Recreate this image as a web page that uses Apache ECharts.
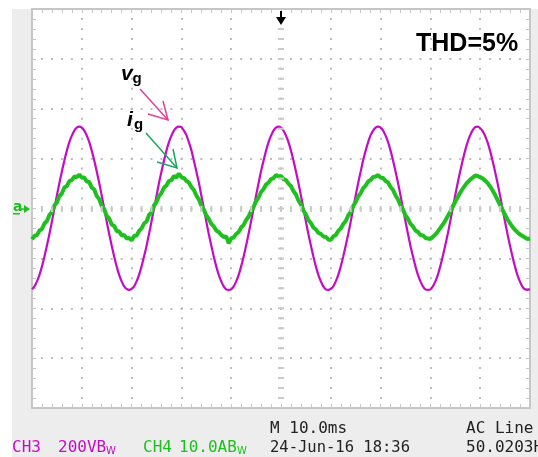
<!DOCTYPE html>
<html>
<head>
<meta charset="utf-8">
<script src="https://cdn.jsdelivr.net/npm/echarts@6/dist/echarts.min.js"></script>
<style>
  html, body { margin: 0; padding: 0; background: #fff; }
  #chart { width: 538px; height: 457px; }
</style>
</head>
<body>
<div id="chart"></div>
<script>
// time in ms (10 ms / div), values in divisions (CH3 200 V/div, CH4 10 A/div)
var vgStep = 0.5;
var vgValues = [
  -1.62, -1.56, -1.46, -1.33, -1.16, -0.96, -0.74, -0.51, -0.26, 0.00, 0.26, 0.51, 0.74, 0.96, 1.16, 1.33, 1.46, 1.56, 1.62, 1.64,
  1.62, 1.56, 1.46, 1.33, 1.16, 0.96, 0.74, 0.51, 0.26, 0.00, -0.26, -0.51, -0.74, -0.96, -1.16, -1.33, -1.46, -1.56, -1.61, -1.63,
  -1.61, -1.56, -1.46, -1.33, -1.16, -0.96, -0.75, -0.51, -0.26, 0.00, 0.25, 0.51, 0.74, 0.96, 1.16, 1.33, 1.46, 1.56, 1.62, 1.64,
  1.63, 1.56, 1.47, 1.33, 1.17, 0.96, 0.74, 0.52, 0.26, 0.01, -0.26, -0.51, -0.74, -0.96, -1.16, -1.33, -1.46, -1.56, -1.62, -1.63,
  -1.62, -1.56, -1.46, -1.33, -1.16, -0.96, -0.74, -0.50, -0.25, 0.00, 0.26, 0.51, 0.75, 0.96, 1.16, 1.33, 1.46, 1.56, 1.62, 1.64,
  1.62, 1.56, 1.46, 1.33, 1.16, 0.96, 0.74, 0.51, 0.26, 0.00, -0.26, -0.51, -0.74, -0.96, -1.16, -1.33, -1.46, -1.56, -1.62, -1.63,
  -1.61, -1.56, -1.46, -1.33, -1.16, -0.96, -0.74, -0.51, -0.26, 0.00, 0.26, 0.51, 0.74, 0.97, 1.16, 1.33, 1.47, 1.56, 1.62, 1.64,
  1.62, 1.56, 1.46, 1.33, 1.16, 0.96, 0.74, 0.51, 0.26, 0.00, -0.26, -0.51, -0.75, -0.96, -1.16, -1.33, -1.46, -1.56, -1.62, -1.63,
  -1.62, -1.56, -1.46, -1.33, -1.15, -0.95, -0.73, -0.50, -0.25, 0.01, 0.27, 0.52, 0.75, 0.97, 1.17, 1.34, 1.47, 1.57, 1.63, 1.64,
  1.61, 1.55, 1.45, 1.32, 1.15, 0.95, 0.73, 0.50, 0.25, -0.01, -0.27, -0.52, -0.75, -0.97, -1.17, -1.34, -1.47, -1.57, -1.62, -1.63,
  -1.62
];

var igStep = 0.5;
var igValues = [
  -0.62, -0.55, -0.53, -0.44, -0.41, -0.30, -0.25, -0.13, -0.07, 0.06, 0.12, 0.25, 0.30, 0.42, 0.45, 0.55, 0.57, 0.64, 0.63, 0.68,
  0.62, 0.62, 0.54, 0.53, 0.42, 0.38, 0.25, 0.19, 0.05, -0.01, -0.15, -0.20, -0.32, -0.35, -0.45, -0.46, -0.54, -0.53, -0.60, -0.59,
  -0.64, -0.55, -0.54, -0.45, -0.40, -0.30, -0.26, -0.13, -0.08, 0.06, 0.13, 0.25, 0.31, 0.42, 0.46, 0.55, 0.57, 0.65, 0.62, 0.70,
  0.63, 0.61, 0.55, 0.52, 0.43, 0.37, 0.26, 0.18, 0.06, -0.02, -0.14, -0.21, -0.31, -0.36, -0.44, -0.47, -0.53, -0.57, -0.56, -0.70,
  -0.60, -0.58, -0.51, -0.47, -0.38, -0.33, -0.23, -0.16, -0.05, 0.03, 0.15, 0.22, 0.33, 0.39, 0.48, 0.52, 0.59, 0.61, 0.67, 0.64,
  0.65, 0.59, 0.57, 0.50, 0.45, 0.35, 0.28, 0.16, 0.08, -0.04, -0.12, -0.23, -0.29, -0.38, -0.42, -0.49, -0.51, -0.56, -0.57, -0.62,
  -0.63, -0.56, -0.53, -0.45, -0.40, -0.31, -0.25, -0.14, -0.07, 0.05, 0.13, 0.24, 0.31, 0.41, 0.46, 0.54, 0.57, 0.63, 0.64, 0.67,
  0.62, 0.61, 0.55, 0.52, 0.43, 0.37, 0.26, 0.18, 0.06, -0.02, -0.14, -0.21, -0.31, -0.36, -0.44, -0.47, -0.53, -0.54, -0.59, -0.60,
  -0.61, -0.57, -0.52, -0.46, -0.39, -0.32, -0.24, -0.15, -0.06, 0.04, 0.14, 0.23, 0.32, 0.40, 0.47, 0.53, 0.58, 0.62, 0.66, 0.65,
  0.63, 0.60, 0.56, 0.51, 0.44, 0.36, 0.27, 0.17, 0.07, -0.03, -0.13, -0.22, -0.30, -0.37, -0.43, -0.48, -0.52, -0.55, -0.58, -0.61,
  -0.60
];

var timeMin = 0, timeMax = 100, timeDiv = 10;
var divMin = -4, divMax = 4;

function pairs(vals, step) {
  return vals.map(function (v, i) { return [i * step, v]; });
}

var gridColor = '#c6c6c6';
var dotColor = '#bdbdbd';
var magenta = '#c40cc4';
var green = '#1ec01e';
var mono = '"DejaVu Sans Mono"';

var chart = echarts.init(document.getElementById('chart'));

function borderAxis(pos, isX) {
  return {
    type: 'value',
    position: pos,
    min: isX ? timeMin : divMin,
    max: isX ? timeMax : divMax,
    interval: isX ? timeDiv : 1,
    axisLine: { show: true, onZero: false, lineStyle: { color: gridColor, width: 2 } },
    axisTick: { show: true, inside: true, length: 4, lineStyle: { color: gridColor } },
    minorTick: { show: true, splitNumber: 5, length: 4, lineStyle: { color: gridColor } },
    axisLabel: { show: false },
    splitLine: { show: false }
  };
}

var xBottom = borderAxis('bottom', true);
xBottom.splitLine = { show: true, lineStyle: { color: dotColor, width: 2, type: [2, 7.975], dashOffset: 1 } };
var yLeft = borderAxis('left', false);
yLeft.splitLine = { show: true, lineStyle: { color: dotColor, width: 2, type: [2, 7.96], dashOffset: 1 } };

function txt(x, y, text, font, fill) {
  return { type: 'text', style: { x: x, y: y, text: text, font: font, fill: fill, verticalAlign: 'middle' }, z: 10 };
}

var option = {
  animation: false,
  backgroundColor: '#ededed',
  grid: { left: 32, top: 9, width: 498, height: 399, show: true, backgroundColor: '#ffffff', borderWidth: 0 },
  xAxis: [xBottom, borderAxis('top', true)],
  yAxis: [yLeft, borderAxis('right', false)],
  series: [
    {
      type: 'line',
      data: [],
      silent: true,
      z: 1,
      markLine: {
        silent: true,
        symbol: 'none',
        label: { show: false },
        data: [
          { yAxis: 0, lineStyle: { color: '#cacaca', width: 6, type: [2, 7.96], dashOffset: 1 } },
          { xAxis: 50, lineStyle: { color: '#cacaca', width: 6, type: [2, 7.975], dashOffset: 1 } }
        ]
      }
    },
    {
      name: 'vg',
      type: 'line',
      data: pairs(vgValues, vgStep),
      showSymbol: false,
      smooth: 0.3,
      z: 3,
      lineStyle: { color: magenta, width: 2.2 }
    },
    {
      name: 'ig',
      type: 'line',
      data: pairs(igValues, igStep),
      showSymbol: false,
      z: 4,
      lineStyle: { color: green, width: 4 }
    }
  ],
  graphic: [
    // white margin of the screenshot
    { type: 'rect', shape: { x: 0, y: 0, width: 538, height: 9 }, style: { fill: '#ffffff' }, z: -1 },
    { type: 'rect', shape: { x: 0, y: 0, width: 12, height: 457 }, style: { fill: '#ffffff' }, z: -1 },
    // trigger marker
    { type: 'rect', shape: { x: 280, y: 11, width: 2, height: 8 }, style: { fill: '#000' }, z: 10 },
    { type: 'polygon', shape: { points: [[276, 17], [286, 17], [281, 25]] }, style: { fill: '#000' }, z: 10 },
    // CH4 ground marker
    txt(13, 207, 'a', 'bold 14px "DejaVu Sans"', green),
    { type: 'rect', shape: { x: 13, y: 213, width: 7, height: 1.5 }, style: { fill: green }, z: 10 },
    { type: 'rect', shape: { x: 21, y: 208.3, width: 4, height: 1.5 }, style: { fill: green }, z: 10 },
    { type: 'polygon', shape: { points: [[24, 205], [30, 209], [24, 213]] }, style: { fill: green }, z: 10 },
    // THD
    txt(416, 44.5, 'THD=5%', 'bold 25px "Liberation Sans"', '#000'),
    // vg label and arrow
    txt(121, 74, 'v', 'italic bold 21px "Liberation Sans"', '#000'),
    txt(132.5, 78.5, 'g', 'bold 15px "Liberation Sans"', '#000'),
    { type: 'polyline', shape: { points: [[140, 89], [168, 120]] }, style: { stroke: '#e0409a', lineWidth: 1.5 }, z: 10 },
    { type: 'polyline', shape: { points: [[163, 101], [168, 120], [148, 114]] }, style: { stroke: '#e0409a', lineWidth: 1.5, fill: null }, z: 10 },
    // ig label and arrow
    txt(127, 120, 'i', 'italic bold 21px "Liberation Sans"', '#000'),
    txt(134, 124.5, 'g', 'bold 15px "Liberation Sans"', '#000'),
    { type: 'polyline', shape: { points: [[146, 133], [177, 168]] }, style: { stroke: '#1aa860', lineWidth: 1.5 }, z: 10 },
    { type: 'polyline', shape: { points: [[173, 149], [177, 168], [157, 162]] }, style: { stroke: '#1aa860', lineWidth: 1.5, fill: null }, z: 10 },
    // status bar
    txt(270, 429, 'M 10.0ms', '16px ' + mono, '#222'),
    txt(466, 429, 'AC Line', '16px ' + mono, '#222'),
    txt(12, 448, 'CH3', '16px ' + mono, magenta),
    txt(58, 448, '200VB', '16px ' + mono, magenta),
    txt(106, 451.5, 'W', '10px "DejaVu Sans"', magenta),
    txt(143, 448, 'CH4', '16px ' + mono, green),
    txt(179, 448, '10.0AB', '16px ' + mono, green),
    txt(237, 451.5, 'W', '10px "DejaVu Sans"', green),
    txt(270, 448, '24-Jun-16 18:36', '15.5px ' + mono, '#222'),
    txt(466, 448, '50.0203Hz', '16px ' + mono, '#222')
  ]
};

chart.setOption(option);
</script>
</body>
</html>
